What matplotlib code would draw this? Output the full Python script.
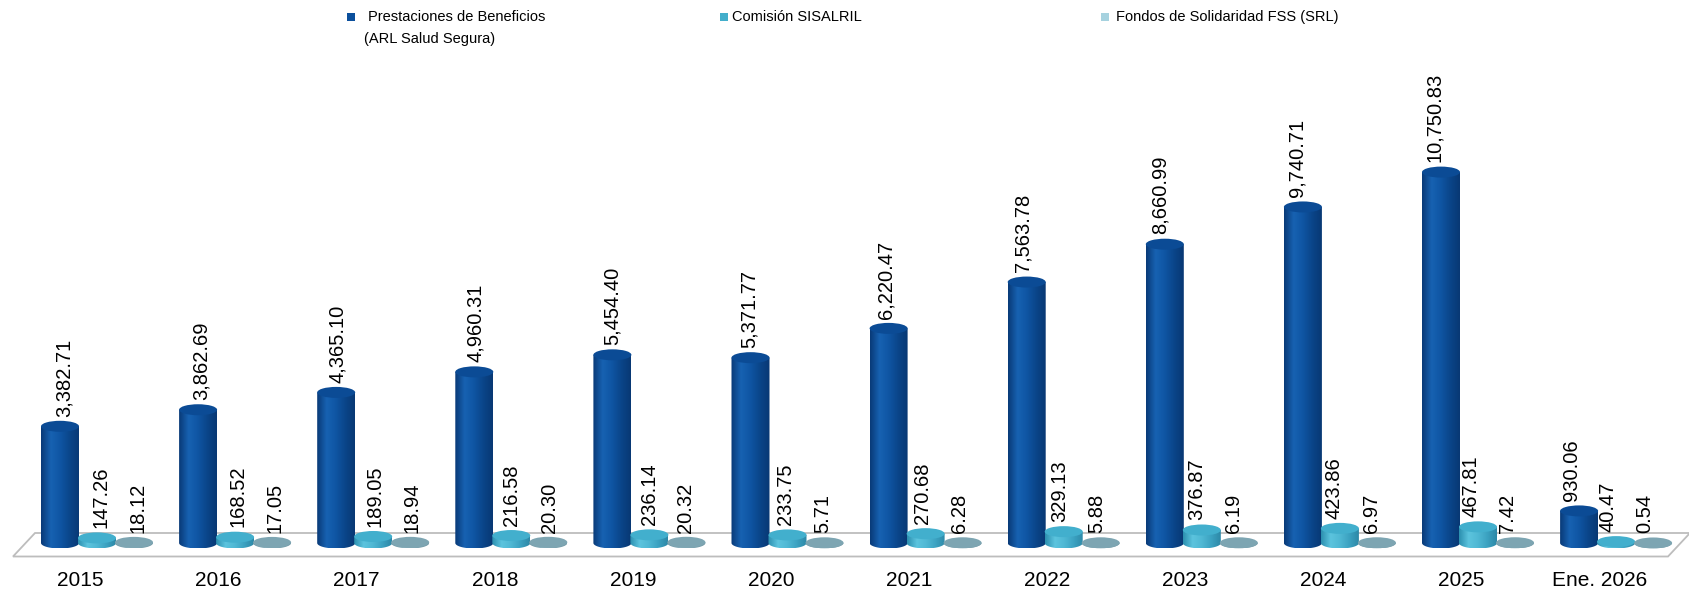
"""3D-style cylinder bar chart: Prestaciones, Comisión SISALRIL and FSS by year."""

import matplotlib

matplotlib.use("Agg")

import matplotlib.pyplot as plt
import numpy as np
from matplotlib.colors import LinearSegmentedColormap
from matplotlib.patches import Ellipse, Polygon, Rectangle

categories = ["2015", "2016", "2017", "2018", "2019", "2020", "2021",
              "2022", "2023", "2024", "2025", "Ene. 2026"]
prestaciones = [3382.71, 3862.69, 4365.10, 4960.31, 5454.40, 5371.77, 6220.47,
                7563.78, 8660.99, 9740.71, 10750.83, 930.06]
comision = [147.26, 168.52, 189.05, 216.58, 236.14, 233.75, 270.68,
            329.13, 376.87, 423.86, 467.81, 40.47]
fondos = [18.12, 17.05, 18.94, 20.30, 20.32, 5.71, 6.28,
          5.88, 6.19, 6.97, 7.42, 0.54]
series_names = ["Prestaciones de Beneficios\n(ARL Salud Segura)",
                "Comisión SISALRIL",
                "Fondos de Solidaridad FSS (SRL)"]

plt.rcParams["font.family"] = ["Liberation Sans", "DejaVu Sans"]

# layout, in output pixels
W, H = 1689, 595
PX_PER_UNIT = 0.0345   # vertical pixels per value unit
BASE_PX = 543          # pixel row of the value 0
GROUP_PX = 138.1       # pixels between categories
FIRST_PX = 97          # pixel column of the first group centre
BAR_HALF = 19 / GROUP_PX
ELL_HALF = 5.5 / PX_PER_UNIT
OFFSETS = [-37 / GROUP_PX, 0.0, 37 / GROUP_PX]


def px_x(p):
    return (p - FIRST_PX) / GROUP_PX


def px_y(p):
    return (BASE_PX - p) / PX_PER_UNIT


side_maps = [
    LinearSegmentedColormap.from_list("blue", ["#093a78", "#1762b2", "#0f55a3", "#0a4589", "#083874"]),
    LinearSegmentedColormap.from_list("cyan", ["#2c90b0", "#5cc4de", "#4fb8d4", "#3ba2c1", "#2d88a7"]),
    LinearSegmentedColormap.from_list("grey", ["#6b93a1", "#8db3bf", "#7da4b1", "#6f96a3"]),
]
top_colors = ["#0b4b95", "#42afcd", "#7da5b2"]
legend_colors = ["#0b4f9c", "#43aecb", "#a6d2df"]


def cylinder(ax, xc, value, cmap, top_color, z):
    t = np.linspace(np.pi, 2 * np.pi, 50)
    arc = np.column_stack([xc + BAR_HALF * np.cos(t), ELL_HALF * np.sin(t)])
    pts = np.vstack([arc, [[xc + BAR_HALF, value], [xc - BAR_HALF, value]]])
    side = Polygon(pts, closed=True, facecolor="none", edgecolor="none", zorder=z)
    ax.add_patch(side)
    im = ax.imshow(np.linspace(0, 1, 64)[None, :], cmap=cmap, aspect="auto",
                   origin="lower", interpolation="bilinear",
                   extent=(xc - BAR_HALF, xc + BAR_HALF, -ELL_HALF, value), zorder=z)
    im.set_clip_path(side)
    ax.add_patch(Ellipse((xc, value), 2 * BAR_HALF, 2 * ELL_HALF,
                         facecolor=top_color, edgecolor="none", zorder=z + 0.5))


fig = plt.figure(figsize=(W / 100, H / 100), dpi=100)
ax = fig.add_axes([0, 0, 1, 1])
ax.axis("off")

# floor
floor = [(px_x(13), px_y(556.5)), (px_x(1668), px_y(556.5)),
         (px_x(1690), px_y(533)), (px_x(35), px_y(533))]
ax.add_patch(Polygon(floor, closed=True, facecolor="white", edgecolor="#bdbdbd",
                     linewidth=1.3, zorder=1))

x = np.arange(len(categories))
for s, values in enumerate([prestaciones, comision, fondos]):
    for i, v in enumerate(values):
        xc = x[i] + OFFSETS[s]
        cylinder(ax, xc, v, side_maps[s], top_colors[s], z=2 + i * 3 + s)
        shift = (4 - 1.1 * i) * 0.72
        ax.annotate(f"{v:,.2f}", (xc, v), xytext=(shift, 7), textcoords="offset points",
                    rotation=90, ha="center", va="bottom", fontsize=14.5, zorder=60)

for i, cat in enumerate(categories):
    ax.text(x[i] - 16.5 / GROUP_PX, px_y(580), cat, ha="center", va="center", fontsize=15)

ax.set_xlim(px_x(0), px_x(W))
ax.set_ylim(px_y(H), px_y(0))

# legend
marker_px = [351, 724, 1105]
text_px = [368, 732, 1116]
for s, name in enumerate(series_names):
    fig.patches.append(Rectangle(((marker_px[s] - 4) / W, 1 - 21 / H), 8 / W, 8 / H,
                                 transform=fig.transFigure, facecolor=legend_colors[s],
                                 edgecolor="none"))
    lines = name.split("\n")
    fig.text(text_px[s] / W, 1 - 17 / H, lines[0], ha="left", va="center", fontsize=10.5)
    if len(lines) > 1:
        fig.text((text_px[s] - 4) / W, 1 - 39 / H, lines[1], ha="left", va="center", fontsize=10.5)

fig.savefig("out.png", dpi=100)
plt.close(fig)
